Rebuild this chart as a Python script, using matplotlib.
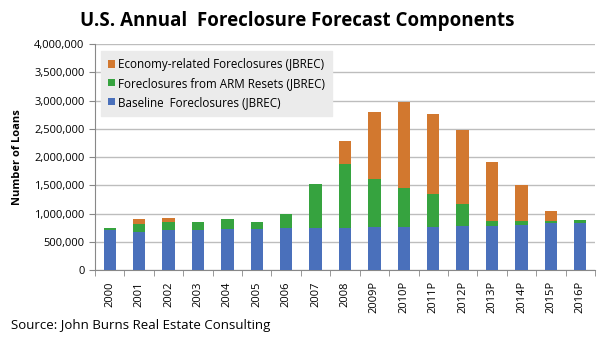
import numpy as np
import matplotlib.pyplot as plt
from matplotlib.ticker import FuncFormatter, MultipleLocator

years = ["2000", "2001", "2002", "2003", "2004", "2005", "2006", "2007", "2008",
         "2009P", "2010P", "2011P", "2012P", "2013P", "2014P", "2015P", "2016P"]
baseline = [708000, 678000, 708000, 708000, 720000, 720000, 737000, 737000, 737000,
            767000, 767000, 767000, 785000, 779000, 796000, 826000, 838000]
arm = [41000, 136000, 136000, 147000, 177000, 135000, 254000, 785000, 1133000,
       838000, 691000, 573000, 378000, 94000, 77000, 47000, 41000]
economy = [0, 83000, 71000, 0, 0, 0, 0, 0, 413000,
           1186000, 1515000, 1421000, 1309000, 1044000, 626000, 171000, 0]

blue = "#4a70bb"
green = "#36a33f"
orange = "#d2782f"
grid_col = "#bdbdbd"

plt.rcParams["font.family"] = ["Open Sans", "DejaVu Sans"]

fig = plt.figure(figsize=(6.15, 3.55), dpi=100)
ax = fig.add_axes([0.1545, 0.2394, 0.813, 0.6366])

x = np.arange(len(years))
base = np.array(baseline)
armv = np.array(arm)
eco = np.array(economy)
w = 0.42
b1 = ax.bar(x, base, w, color=blue, label="Baseline  Foreclosures (JBREC)", zorder=3)
b2 = ax.bar(x, armv, w, bottom=base, color=green, label="Foreclosures from ARM Resets (JBREC)", zorder=3)
b3 = ax.bar(x, eco, w, bottom=base + armv, color=orange, label="Economy-related Foreclosures (JBREC)", zorder=3)

ax.set_xlim(-0.5, len(years) - 0.5)
ax.set_ylim(0, 4000000)
ax.yaxis.set_major_locator(MultipleLocator(500000))
ax.yaxis.set_major_formatter(FuncFormatter(lambda v, p: f"{int(v):,}"))
ax.grid(axis="y", color=grid_col, linewidth=1, zorder=0)

ax.set_xticks(x)
ax.set_xticklabels(years, rotation=90, fontsize=8)
ax.set_xticks(np.arange(-0.5, len(years), 1), minor=True)
ax.tick_params(axis="x", which="major", length=0, pad=8)
ax.tick_params(axis="x", which="minor", length=4, color="#888888", direction="out")
ax.tick_params(axis="y", length=4, color="#888888", labelsize=8)

for s in ["top", "right"]:
    ax.spines[s].set_visible(False)
ax.spines["left"].set_color("#888888")
ax.spines["bottom"].set_color("#888888")

ax.set_ylabel("Number of Loans", fontsize=8, fontweight="bold", labelpad=8)

handles = [b3, b2, b1]
leg = ax.legend(handles, [h.get_label() for h in handles], loc="upper left",
                bbox_to_anchor=(0.0, 0.995), fontsize=8.4, frameon=True,
                handlelength=0.6, handleheight=0.6, handletextpad=0.3,
                labelspacing=0.5, borderpad=0.6, fancybox=False)
leg.get_frame().set_facecolor("#ebebeb")
leg.get_frame().set_edgecolor("#ebebeb")
leg.get_frame().set_alpha(1)

fig.text(0.13, 0.94, "U.S. Annual  Foreclosure Forecast Components", fontsize=13.5,
         fontweight="bold", ha="left", va="center")
fig.text(0.018, 0.083, "Source: John Burns Real Estate Consulting", fontsize=9.5,
         ha="left", va="center")

fig.savefig("out.png", dpi=100)
